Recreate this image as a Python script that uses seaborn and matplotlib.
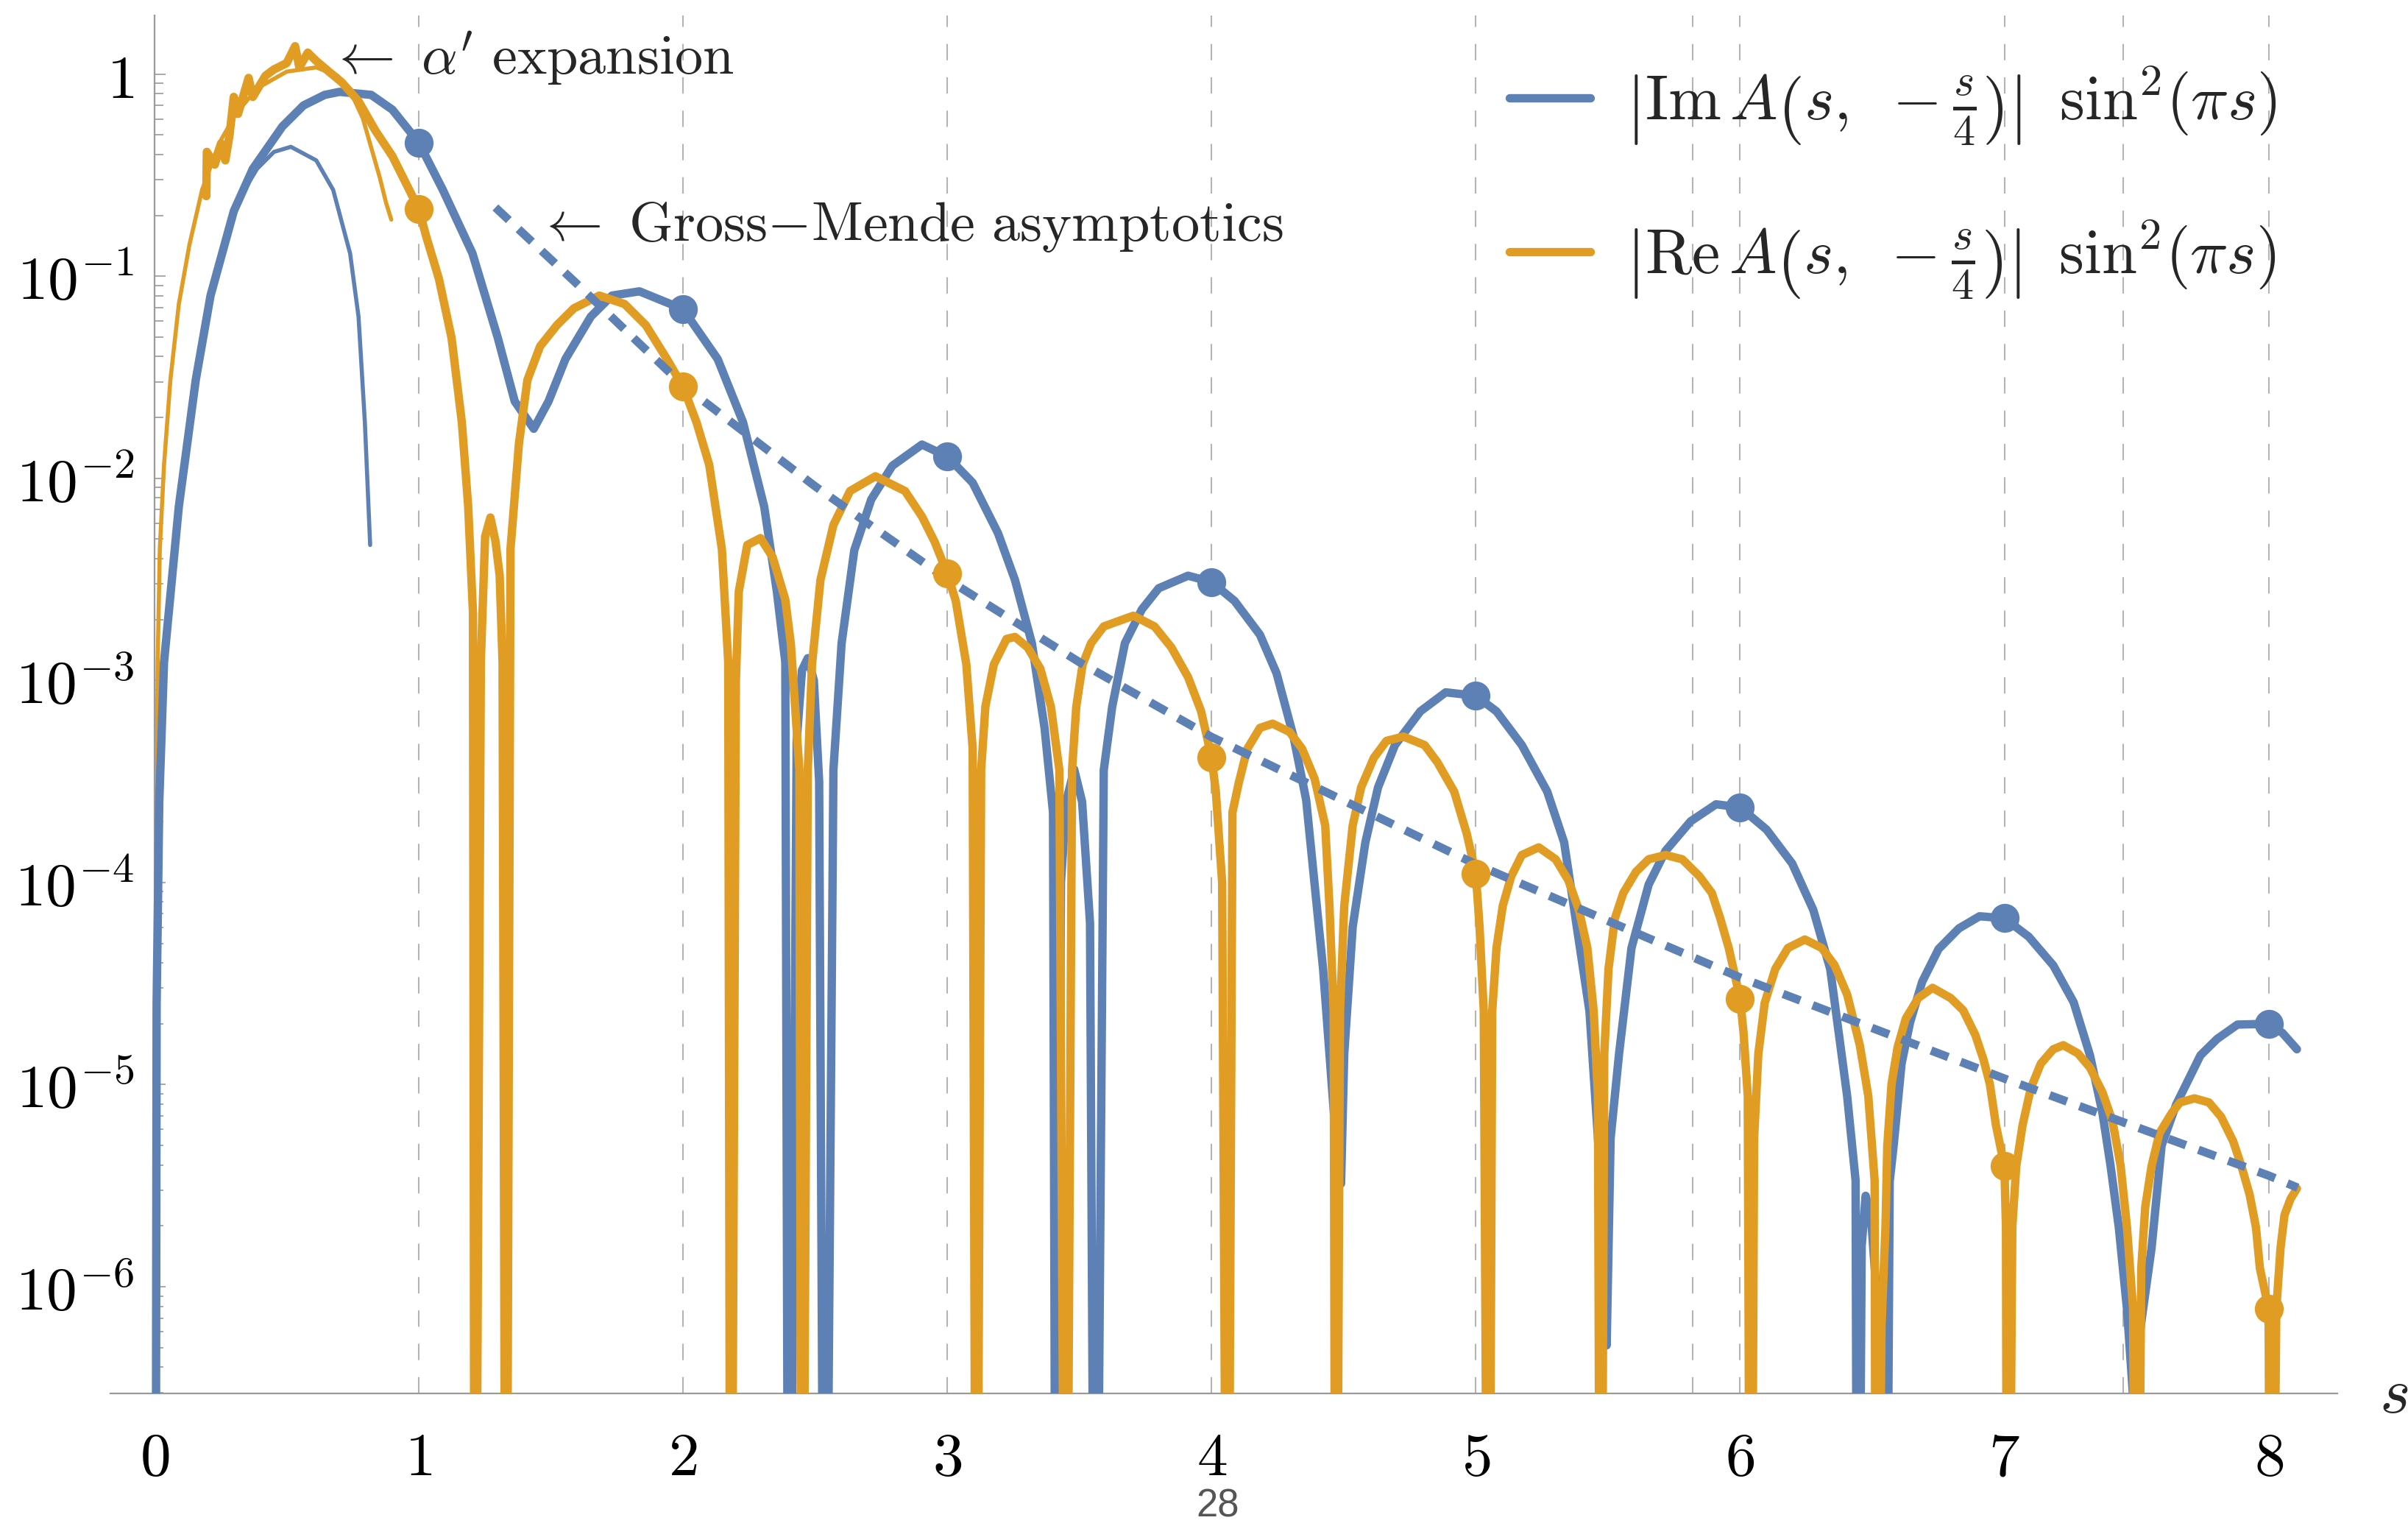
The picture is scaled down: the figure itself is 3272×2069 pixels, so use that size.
import numpy as np
import seaborn as sns
import matplotlib
matplotlib.use('Agg')
import matplotlib.pyplot as plt
from matplotlib.ticker import FixedLocator, FixedFormatter, LogLocator, NullFormatter

blue = '#5E81B5'
orange = '#E19C24'
gray = '#9a9a9a'

# values as (s, log10 value); zeros of the curves are put at 1e-9 (below the axis)
im_s = [0.003, 0.008, 0.018, 0.036, 0.092, 0.156, 0.212, 0.300, 0.372, 0.484, 0.564, 0.644, 0.700, 0.820, 0.900,
        1.0, 1.091, 1.203, 1.299, 1.363, 1.435, 1.491, 1.555, 1.651, 1.731, 1.835, 2.0, 2.131, 2.227, 2.307, 2.355,
        2.387, 2.40,
        2.43, 2.45, 2.472, 2.495, 2.515, 2.536,
        2.569, 2.600, 2.648, 2.712, 2.792, 2.904, 3.0, 3.096, 3.192, 3.256, 3.320, 3.368, 3.40, 3.412,
        3.43, 3.45, 3.48, 3.51, 3.54, 3.56,
        3.592, 3.624, 3.672, 3.736, 3.80, 3.911, 4.0, 4.087, 4.183, 4.246, 4.31, 4.358, 4.39, 4.422, 4.446, 4.47, 4.49,
        4.502, 4.534, 4.582, 4.63, 4.694, 4.79, 4.886, 5.0, 5.078, 5.174, 5.27, 5.334, 5.382, 5.43, 5.462, 5.486, 5.495,
        5.51, 5.542, 5.589, 5.654, 5.718, 5.813, 5.909, 6.0, 6.10, 6.197, 6.277, 6.341, 6.373, 6.405, 6.437, 6.445,
        6.46, 6.475, 6.495, 6.52, 6.55,
        6.566, 6.581, 6.611, 6.643, 6.689, 6.751, 6.828, 6.906, 7.0, 7.092, 7.185, 7.262, 7.324, 7.371, 7.402, 7.433,
        7.464, 7.49,
        7.505, 7.557, 7.595, 7.65, 7.742, 7.805, 7.882, 8.0, 8.052, 8.107]
im_log = [-9, -4.6, -3.6, -2.91, -2.14, -1.514, -1.096, -0.678, -0.469, -0.259, -0.155, -0.103, -0.088, -0.103, -0.176,
          -0.339, -0.573, -0.887, -1.305, -1.619, -1.755, -1.619, -1.41, -1.2, -1.096, -1.075, -1.163, -1.41, -1.723,
          -2.14, -2.56, -2.91, -9,
          -3.3, -2.95, -2.89, -3.0, -3.5, -9,
          -3.444, -2.816, -2.356, -2.105, -1.938, -1.833, -1.892, -2.022, -2.272, -2.503, -2.816, -3.235, -3.653, -9,
          -4.0, -3.6, -3.44, -3.6, -4.2, -9,
          -3.444, -3.13, -2.816, -2.649, -2.544, -2.482, -2.513, -2.607, -2.774, -2.965, -3.278, -3.592, -4.01, -4.428,
          -4.847, -5.265, -5.49,
          -4.847, -4.219, -3.801, -3.529, -3.32, -3.153, -3.059, -3.076, -3.153, -3.32, -3.55, -3.801, -4.219, -4.637,
          -5.265, -5.825, -6.29,
          -5.265, -4.847, -4.324, -4.01, -3.843, -3.697, -3.613, -3.628, -3.738, -3.906, -4.136, -4.428, -4.742, -5.056,
          -5.474, -9,
          -5.8, -5.55, -5.65, -6.1, -9,
          -5.48, -5.301, -4.896, -4.693, -4.491, -4.329, -4.227, -4.167, -4.177, -4.268, -4.41, -4.592, -4.855, -5.139,
          -5.403, -5.706, -6.11, -6.6,
          -6.3, -5.808, -5.301, -5.099, -4.855, -4.774, -4.703, -4.699, -4.744, -4.825]

re_s = [0.196, 0.198, 0.228, 0.252, 0.268, 0.284, 0.30, 0.316, 0.356, 0.372, 0.42, 0.452, 0.5, 0.532, 0.548, 0.58,
        0.612, 0.66, 0.708, 0.772, 0.836, 0.9, 0.948, 1.0, 1.028, 1.076, 1.124, 1.163, 1.187, 1.205, 1.212,
        1.235, 1.251, 1.271, 1.29, 1.306, 1.317, 1.33,
        1.347, 1.379, 1.411, 1.459, 1.523, 1.587, 1.683, 1.779, 1.859, 1.939, 2.0, 2.051, 2.099, 2.147, 2.171, 2.18,
        2.20, 2.211, 2.243, 2.293, 2.339, 2.387, 2.408, 2.44, 2.45,
        2.472, 2.488, 2.52, 2.569, 2.632, 2.728, 2.84, 2.904, 2.952, 3.0, 3.032, 3.072, 3.096, 3.11,
        3.128, 3.144, 3.176, 3.224, 3.256, 3.304, 3.352, 3.392, 3.424, 3.448,
        3.472, 3.488, 3.512, 3.544, 3.592, 3.704, 3.784, 3.848, 3.911, 3.96, 4.0, 4.016, 4.04, 4.06,
        4.079, 4.103, 4.135, 4.183, 4.231, 4.295, 4.343, 4.39, 4.43, 4.446, 4.462, 4.47,
        4.486, 4.502, 4.534, 4.566, 4.614, 4.662, 4.726, 4.806, 4.854, 4.918, 4.966, 5.0, 5.014, 5.03, 5.048,
        5.062, 5.078, 5.102, 5.134, 5.174, 5.238, 5.302, 5.35, 5.39, 5.422, 5.446, 5.462, 5.472,
        5.486, 5.502, 5.526, 5.558, 5.606, 5.654, 5.718, 5.781, 5.846, 5.893, 5.925, 5.957, 6.0, 6.013, 6.029, 6.04,
        6.053, 6.069, 6.093, 6.133, 6.181, 6.245, 6.309, 6.357, 6.405, 6.453, 6.485, 6.509, 6.515,
        6.535, 6.55, 6.557, 6.573, 6.596, 6.627, 6.674, 6.728, 6.797, 6.844, 6.89, 6.921, 6.945, 6.968, 7.0, 7.006, 7.012,
        7.03, 7.045, 7.069, 7.1, 7.138, 7.185, 7.223, 7.278, 7.324, 7.371, 7.409, 7.44, 7.464, 7.487, 7.50,
        7.518, 7.533, 7.557, 7.587, 7.634, 7.665, 7.719, 7.774, 7.82, 7.866, 7.897, 7.928, 7.952, 7.967, 8.0, 8.008,
        8.029, 8.045, 8.06, 8.083, 8.107]
re_log = [-0.604, -0.385, -0.448, -0.343, -0.427, -0.301, -0.113, -0.197, -0.019, -0.113, -0.008, 0.023, 0.054, 0.138,
          0.033, 0.106, 0.065, 0.012, -0.04, -0.134, -0.28, -0.406, -0.531, -0.667, -0.803, -1.012, -1.305, -1.723,
          -2.14, -2.665, -9,
          -2.9, -2.288, -2.194, -2.31, -2.48, -2.91, -9,
          -2.351, -1.828, -1.514, -1.347, -1.242, -1.159, -1.096, -1.138, -1.242, -1.41, -1.546, -1.723, -1.933, -2.351,
          -2.91, -9,
          -3.0, -2.56, -2.33, -2.296, -2.39, -2.6, -2.82, -3.44, -9,
          -3.444, -2.921, -2.503, -2.231, -2.063, -1.99, -2.063, -2.189, -2.314, -2.471, -2.607, -2.921, -3.339, -9,
          -3.444, -3.13, -2.921, -2.795, -2.785, -2.837, -2.942, -3.13, -3.444, -9,
          -3.444, -3.13, -2.921, -2.816, -2.733, -2.68, -2.733, -2.837, -2.984, -3.151, -3.381, -3.548, -4.0, -9,
          -3.653, -3.506, -3.339, -3.235, -3.214, -3.255, -3.339, -3.487, -3.718, -4.115, -4.637, -9,
          -4.637, -4.115, -3.718, -3.529, -3.383, -3.299, -3.278, -3.32, -3.404, -3.55, -3.76, -3.958, -4.219, -4.637, -9,
          -4.637, -4.324, -4.115, -3.969, -3.864, -3.826, -3.885, -3.989, -4.136, -4.324, -4.637, -5.056, -9,
          -4.847, -4.428, -4.178, -4.052, -3.947, -3.885, -3.864, -3.885, -3.969, -4.052, -4.178, -4.324, -4.575, -4.742,
          -5.056, -9,
          -5.265, -4.847, -4.596, -4.428, -4.324, -4.282, -4.324, -4.408, -4.554, -4.805, -5.056, -5.474, -9,
          -6.2, -5.706, -5.301, -4.997, -4.815, -4.673, -4.572, -4.521, -4.572, -4.632, -4.754, -4.876, -4.997, -5.2,
          -5.403, -5.706, -9,
          -5.706, -5.403, -5.2, -5.018, -4.896, -4.825, -4.805, -4.845, -4.916, -5.038, -5.18, -5.403, -5.706, -6.11, -9,
          -5.909, -5.605, -5.403, -5.24, -5.139, -5.088, -5.068, -5.088, -5.159, -5.281, -5.403, -5.544, -5.706, -5.909,
          -6.11, -9,
          -6.11, -5.808, -5.645, -5.565, -5.514]

# alpha' expansion (thin curves)
im_alpha_s = [0.003, 0.008, 0.018, 0.036, 0.092, 0.156, 0.212, 0.300, 0.34, 0.388, 0.452, 0.516, 0.612, 0.676, 0.74,
              0.772, 0.796, 0.816]
im_alpha_log = [-9, -4.6, -3.6, -2.91, -2.14, -1.514, -1.096, -0.70, -0.573, -0.469, -0.385, -0.36, -0.427, -0.573,
                -0.887, -1.2, -1.723, -2.33]
re_alpha_s = [0.001, 0.004, 0.008, 0.012, 0.02, 0.036, 0.06, 0.092, 0.132, 0.18, 0.244, 0.308, 0.388, 0.5, 0.612,
              0.692, 0.74, 0.788, 0.82, 0.852, 0.876, 0.896]
re_alpha_log = [-9, -5.0, -3.6, -2.91, -2.351, -1.933, -1.514, -1.138, -0.845, -0.573, -0.343, -0.197, -0.071, 0.012,
                0.033, -0.008, -0.082, -0.218, -0.364, -0.51, -0.636, -0.72]

# Gross-Mende asymptotics
gm_s = [1.29, 1.6, 2.0, 2.5, 3, 3.5, 4, 5, 6, 7, 8, 8.11]
gm_log = [-0.66, -1.04, -1.54, -2.04, -2.50, -2.91, -3.28, -3.91, -4.47, -4.97, -5.45, -5.51]

# points at integer s
dot_s = [1, 2, 3, 4, 5, 6, 7, 8]
im_dot_log = [-0.339, -1.163, -1.892, -2.513, -3.076, -3.628, -4.177, -4.699]
re_dot_log = [-0.667, -1.546, -2.471, -3.381, -3.958, -4.575, -5.403, -6.11]

grid_s = [1, 2, 3, 4, 5, 5.82, 6, 7, 7.45, 8]
x_ticks = [0, 1, 2, 3, 4, 5, 6, 7, 8]
y_exps = [0, -1, -2, -3, -4, -5, -6]

sns.set_theme(style='white')
plt.rcParams['mathtext.fontset'] = 'cm'
plt.rcParams['font.family'] = ['DejaVu Sans']
plt.rcParams['lines.scale_dashes'] = False

fig = plt.figure(figsize=(16.36, 10.345), dpi=200)
ax = fig.add_axes([0.04584, 0.08507, 0.92482, 0.90478])
ax.set_yscale('log')
ax.set_xlim(-0.167, 8.26)
ax.set_ylim(10 ** -6.528, 10 ** 0.29)

for g in grid_s:
    ax.axvline(g, color='#b4b4b4', lw=0.75, ls=(0, (8, 8.3)), zorder=1)

p = lambda v: np.power(10.0, np.array(v, dtype=float))

sns.lineplot(x=im_alpha_s, y=p(im_alpha_log), ax=ax, color=blue, linewidth=2.0, sort=False, estimator=None, zorder=2)
sns.lineplot(x=re_alpha_s, y=p(re_alpha_log), ax=ax, color=orange, linewidth=2.0, sort=False, estimator=None, zorder=2)
sns.lineplot(x=im_s, y=p(im_log), ax=ax, color=blue, linewidth=4.1, sort=False, estimator=None, zorder=3)
h_im = ax.lines[-1]
sns.lineplot(x=re_s, y=p(re_log), ax=ax, color=orange, linewidth=4.1, sort=False, estimator=None, zorder=4)
h_re = ax.lines[-1]
sns.lineplot(x=gm_s, y=p(gm_log), ax=ax, color=blue, linewidth=4.1, sort=False, estimator=None, zorder=5)
ax.lines[-1].set_dashes((9, 6.5))
ax.lines[-1].set_dash_capstyle('butt')

sns.scatterplot(x=dot_s, y=p(im_dot_log), ax=ax, color=blue, s=200, linewidth=0, zorder=6)
sns.scatterplot(x=dot_s, y=p(re_dot_log), ax=ax, color=orange, s=200, linewidth=0, zorder=6)

# axes in the Mathematica way: y axis through s = 0
for side in ['top', 'right']:
    ax.spines[side].set_visible(False)
ax.spines['left'].set_position(('data', 0))
for side in ['left', 'bottom']:
    ax.spines[side].set_color(gray)
    ax.spines[side].set_linewidth(0.8)

ax.xaxis.set_major_locator(FixedLocator(x_ticks))
ax.xaxis.set_major_formatter(FixedFormatter([r'$%d$' % t for t in x_ticks]))
ax.yaxis.set_major_locator(FixedLocator([10.0 ** e for e in y_exps]))
ax.yaxis.set_major_formatter(FixedFormatter([r'$1$' if e == 0 else r'$10^{%d}$' % e for e in y_exps]))
ax.yaxis.set_minor_locator(LogLocator(base=10, subs=np.arange(2, 10), numticks=30))
ax.yaxis.set_minor_formatter(NullFormatter())
ax.tick_params(axis='x', which='major', direction='in', length=5, width=0.6, color=gray, pad=17, labelsize=30,
               bottom=True)
ax.tick_params(axis='y', which='major', direction='in', length=5.5, width=0.6, color=gray, pad=10, labelsize=30,
               left=True)
ax.tick_params(axis='y', which='minor', direction='in', length=4.3, width=0.6, color=gray, left=True)
for lab in ax.get_xticklabels() + ax.get_yticklabels():
    lab.set_color('black')

ax.text(0.66, 1.0, r"$\leftarrow\ \alpha'\ \mathrm{expansion}$", fontsize=27.5, ha='left', va='baseline')
ax.text(1.445, 0.150, r'$\leftarrow\ \mathrm{Gross}{-}\mathrm{Mende\ asymptotics}$', fontsize=27.5, ha='left',
        va='baseline')

leg = ax.legend([h_im, h_re],
                [r'$\left|\mathrm{Im}\,A\left(s,\ -\frac{s}{4}\right)\right|\;\;\mathrm{sin}^2(\pi s)$',
                 r'$\left|\mathrm{Re}\,A\left(s,\ -\frac{s}{4}\right)\right|\;\;\mathrm{sin}^2(\pi s)$'],
                loc='upper left', bbox_to_anchor=(2051 / 3272, 1 - 88 / 2069), bbox_transform=fig.transFigure,
                frameon=False, fontsize=31, handlelength=1.28, handletextpad=0.56, labelspacing=1.12,
                borderpad=0, borderaxespad=0)

fig.text(3253 / 3272, 1 - 1895 / 2069, r'$s$', fontsize=32, ha='center', va='center')
fig.text(0.5058, 0.0108, '28', fontsize=19, color='#555555', family='Liberation Sans', ha='center', va='center')

fig.savefig('out.png', dpi=200)
